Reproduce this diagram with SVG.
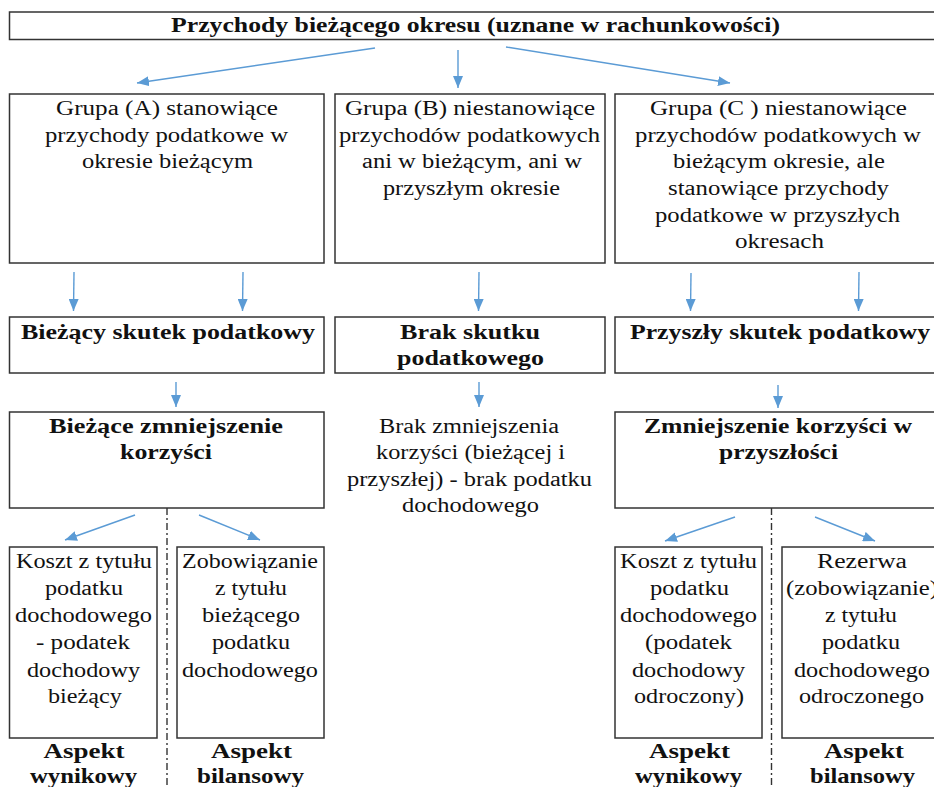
<svg xmlns="http://www.w3.org/2000/svg" width="934" height="787" viewBox="0 0 934 787" font-family="Liberation Serif, Times New Roman, DejaVu Serif, serif">
<defs>
<marker id="ah" markerWidth="12" markerHeight="10" refX="12" refY="5" orient="auto" markerUnits="userSpaceOnUse">
<path d="M0,0 L12,5 L0,10 z" fill="#5b9bd5"/>
</marker>
<style>
.box{fill:#fff;stroke:#333;stroke-width:1.5}
.t{font-size:20px;fill:#111;text-anchor:middle}
.b{font-weight:bold}
.arr{stroke:#5b9bd5;stroke-width:1.4;fill:none;marker-end:url(#ah)}
.dash{stroke:#333;stroke-width:1.4;stroke-dasharray:7 3 2 3;fill:none}
</style>
</defs>
<rect width="934" height="787" fill="#fff"/>

<g id="title">
<rect class="box" x="9.5" y="12" width="935" height="27.5"/>
<text class="t b" x="475.5" y="32" textLength="609" lengthAdjust="spacingAndGlyphs">Przychody bieżącego okresu (uznane w rachunkowości)</text>
</g>

<g id="grupaA">
<rect class="box" x="9.5" y="94" width="314.5" height="169"/>
<text class="t" x="167" y="115" textLength="222" lengthAdjust="spacingAndGlyphs">Grupa (A) stanowiące</text>
<text class="t" x="166.5" y="142" textLength="243" lengthAdjust="spacingAndGlyphs">przychody podatkowe w</text>
<text class="t" x="167.5" y="168" textLength="171" lengthAdjust="spacingAndGlyphs">okresie bieżącym</text>
</g>

<g id="grupaB">
<rect class="box" x="335" y="94" width="270" height="169"/>
<text class="t" x="470" y="115" textLength="250" lengthAdjust="spacingAndGlyphs">Grupa (B) niestanowiące</text>
<text class="t" x="469.5" y="142" textLength="261" lengthAdjust="spacingAndGlyphs">przychodów podatkowych</text>
<text class="t" x="472" y="168" textLength="220" lengthAdjust="spacingAndGlyphs">ani w bieżącym, ani w</text>
<text class="t" x="471.5" y="195" textLength="177" lengthAdjust="spacingAndGlyphs">przyszłym okresie</text>
</g>

<g id="grupaC">
<rect class="box" x="615" y="94" width="330" height="169"/>
<text class="t" x="778.5" y="115" textLength="257" lengthAdjust="spacingAndGlyphs">Grupa (C ) niestanowiące</text>
<text class="t" x="778" y="142" textLength="286" lengthAdjust="spacingAndGlyphs">przychodów podatkowych w</text>
<text class="t" x="779" y="168" textLength="212" lengthAdjust="spacingAndGlyphs">bieżącym okresie, ale</text>
<text class="t" x="778.5" y="195" textLength="221" lengthAdjust="spacingAndGlyphs">stanowiące przychody</text>
<text class="t" x="777.5" y="222" textLength="245" lengthAdjust="spacingAndGlyphs">podatkowe w przyszłych</text>
<text class="t" x="779.5" y="248" textLength="89" lengthAdjust="spacingAndGlyphs">okresach</text>
</g>

<g id="biezacySkutek">
<rect class="box" x="9.5" y="317" width="314.5" height="56"/>
<text class="t b" x="168" y="339" textLength="294" lengthAdjust="spacingAndGlyphs">Bieżący skutek podatkowy</text>
</g>

<g id="brakSkutku">
<rect class="box" x="335" y="317" width="270" height="56"/>
<text class="t b" x="470" y="339" textLength="140" lengthAdjust="spacingAndGlyphs">Brak skutku</text>
<text class="t b" x="470.5" y="365" textLength="147" lengthAdjust="spacingAndGlyphs">podatkowego</text>
</g>

<g id="przyszlySkutek">
<rect class="box" x="615" y="317" width="330" height="56"/>
<text class="t b" x="780" y="339" textLength="300" lengthAdjust="spacingAndGlyphs">Przyszły skutek podatkowy</text>
</g>

<g id="biezaceZmniejszenie">
<rect class="box" x="9.5" y="412" width="314.5" height="96"/>
<text class="t b" x="166" y="433" textLength="234" lengthAdjust="spacingAndGlyphs">Bieżące zmniejszenie</text>
<text class="t b" x="166" y="459" textLength="92" lengthAdjust="spacingAndGlyphs">korzyści</text>
</g>

<g id="brakZmniejszenia">
<text class="t" x="469" y="433" textLength="180" lengthAdjust="spacingAndGlyphs">Brak zmniejszenia</text>
<text class="t" x="470.5" y="459" textLength="189" lengthAdjust="spacingAndGlyphs">korzyści (bieżącej i</text>
<text class="t" x="469.5" y="486" textLength="245" lengthAdjust="spacingAndGlyphs">przyszłej) - brak podatku</text>
<text class="t" x="470.5" y="512" textLength="137" lengthAdjust="spacingAndGlyphs">dochodowego</text>
</g>

<g id="zmniejszeniePrzyszlosc">
<rect class="box" x="615" y="412" width="330" height="96"/>
<text class="t b" x="778" y="433" textLength="268" lengthAdjust="spacingAndGlyphs">Zmniejszenie korzyści w</text>
<text class="t b" x="778.5" y="459" textLength="119" lengthAdjust="spacingAndGlyphs">przyszłości</text>
</g>

<g id="kosztBiezacy">
<rect class="box" x="9.5" y="547" width="147.5" height="191"/>
<text class="t" x="84" y="568" textLength="136" lengthAdjust="spacingAndGlyphs">Koszt z tytułu</text>
<text class="t" x="84" y="595" textLength="78" lengthAdjust="spacingAndGlyphs">podatku</text>
<text class="t" x="83.5" y="622" textLength="137" lengthAdjust="spacingAndGlyphs">dochodowego</text>
<text class="t" x="83" y="649" textLength="94" lengthAdjust="spacingAndGlyphs">- podatek</text>
<text class="t" x="83.5" y="677" textLength="113" lengthAdjust="spacingAndGlyphs">dochodowy</text>
<text class="t" x="85" y="703" textLength="74" lengthAdjust="spacingAndGlyphs">bieżący</text>
<text class="t b" x="84" y="758" textLength="81" lengthAdjust="spacingAndGlyphs">Aspekt</text>
<text class="t b" x="83.5" y="783" textLength="107" lengthAdjust="spacingAndGlyphs">wynikowy</text>
</g>

<g id="zobowiazanieBiezace">
<rect class="box" x="177" y="547" width="147" height="191"/>
<text class="t" x="250" y="568" textLength="136" lengthAdjust="spacingAndGlyphs">Zobowiązanie</text>
<text class="t" x="251" y="595" textLength="72" lengthAdjust="spacingAndGlyphs">z tytułu</text>
<text class="t" x="251" y="622" textLength="98" lengthAdjust="spacingAndGlyphs">bieżącego</text>
<text class="t" x="251" y="649" textLength="78" lengthAdjust="spacingAndGlyphs">podatku</text>
<text class="t" x="250" y="677" textLength="136" lengthAdjust="spacingAndGlyphs">dochodowego</text>
<text class="t b" x="251.5" y="758" textLength="81" lengthAdjust="spacingAndGlyphs">Aspekt</text>
<text class="t b" x="250.5" y="783" textLength="107" lengthAdjust="spacingAndGlyphs">bilansowy</text>
</g>

<g id="kosztOdroczony">
<rect class="box" x="615" y="547" width="147" height="191"/>
<text class="t" x="688.5" y="568" textLength="137" lengthAdjust="spacingAndGlyphs">Koszt z tytułu</text>
<text class="t" x="689.5" y="595" textLength="79" lengthAdjust="spacingAndGlyphs">podatku</text>
<text class="t" x="688.5" y="622" textLength="137" lengthAdjust="spacingAndGlyphs">dochodowego</text>
<text class="t" x="688.5" y="649" textLength="87" lengthAdjust="spacingAndGlyphs">(podatek</text>
<text class="t" x="688.5" y="677" textLength="113" lengthAdjust="spacingAndGlyphs">dochodowy</text>
<text class="t" x="689" y="703" textLength="110" lengthAdjust="spacingAndGlyphs">odroczony)</text>
<text class="t b" x="689.5" y="758" textLength="81" lengthAdjust="spacingAndGlyphs">Aspekt</text>
<text class="t b" x="688.5" y="783" textLength="107" lengthAdjust="spacingAndGlyphs">wynikowy</text>
</g>

<g id="rezerwa">
<rect class="box" x="782" y="547" width="165" height="191"/>
<text class="t" x="862" y="568" textLength="90" lengthAdjust="spacingAndGlyphs">Rezerwa</text>
<text class="t" x="862" y="595" textLength="152" lengthAdjust="spacingAndGlyphs">(zobowiązanie)</text>
<text class="t" x="861" y="622" textLength="72" lengthAdjust="spacingAndGlyphs">z tytułu</text>
<text class="t" x="861" y="649" textLength="78" lengthAdjust="spacingAndGlyphs">podatku</text>
<text class="t" x="862" y="677" textLength="136" lengthAdjust="spacingAndGlyphs">dochodowego</text>
<text class="t" x="861.5" y="703" textLength="125" lengthAdjust="spacingAndGlyphs">odroczonego</text>
<text class="t b" x="864" y="758" textLength="80" lengthAdjust="spacingAndGlyphs">Aspekt</text>
<text class="t b" x="862.5" y="783" textLength="105" lengthAdjust="spacingAndGlyphs">bilansowy</text>
</g>

<g id="connectors">
<line class="arr" x1="375" y1="48" x2="137" y2="83"/>
<line class="arr" x1="458" y1="50" x2="458" y2="88"/>
<line class="arr" x1="506" y1="47" x2="730" y2="83"/>
<line class="arr" x1="74" y1="272" x2="73.5" y2="311"/>
<line class="arr" x1="243" y1="272" x2="242.5" y2="311"/>
<line class="arr" x1="479" y1="272" x2="478.5" y2="311"/>
<line class="arr" x1="691" y1="273" x2="690.5" y2="311"/>
<line class="arr" x1="859" y1="272" x2="858.5" y2="311"/>
<line class="arr" x1="176" y1="382" x2="176" y2="407"/>
<line class="arr" x1="479" y1="382" x2="479" y2="407"/>
<line class="arr" x1="778" y1="385" x2="778" y2="408"/>
<line class="arr" x1="135" y1="515" x2="65" y2="540"/>
<line class="arr" x1="199" y1="515" x2="260" y2="540"/>
<line class="arr" x1="735" y1="517" x2="665" y2="541"/>
<line class="arr" x1="815" y1="517" x2="875" y2="541"/>
<line class="dash" x1="167" y1="508" x2="167" y2="787"/>
<line class="dash" x1="771.5" y1="508" x2="771.5" y2="787"/>
</g>
</svg>
